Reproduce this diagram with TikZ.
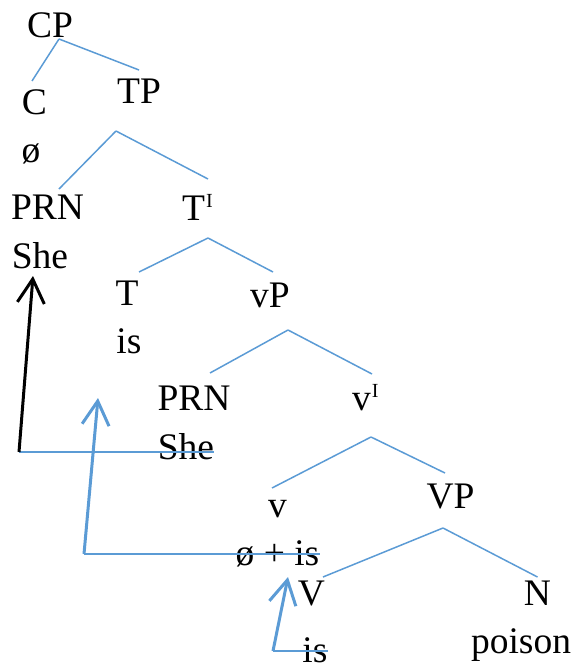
\documentclass[tikz,border=0pt]{standalone}
\usepackage{fontspec}
\setmainfont{Liberation Serif}
\usetikzlibrary{arrows.meta,calc}
\definecolor{treeblue}{HTML}{5B9BD5}
\newcommand{\barmark}{\raisebox{12.5pt}{\fontsize{20}{20}\selectfont I}}
\begin{document}
\begin{tikzpicture}[x=1pt,y=-1pt,
  lbl/.style={inner sep=0pt, anchor=base, font=\fontsize{37.5}{40}\selectfont},
  edge/.style={draw=treeblue, line width=1.5pt},
  move/.style={line width=3pt, -{Straight Barb[length=24pt,width=27pt]}},
  trace/.style={draw=treeblue, line width=2pt}]
\useasboundingbox (0,0) rectangle (574,666);
% labels
\node[lbl] (CP) at (50,38) {CP};
\node[lbl] (C) at (34.5,114) {C};
\node[lbl] (Cnull) at (31,162) {ø};
\node[lbl] (TP) at (139,104) {TP};
\node[lbl] (PRN1) at (47.5,219) {PRN};
\node[lbl] (She1) at (40,268) {She};
\node[lbl, anchor=base west] (Tbar) at (182,220) {T\kern1pt\barmark};
\node[lbl] (T) at (127,305) {T};
\node[lbl] (is1) at (129,353) {is};
\node[lbl] (vP) at (270,307) {vP};
\node[lbl] (PRN2) at (194,410) {PRN};
\node[lbl] (She2) at (186,459) {She};
\node[lbl, anchor=base west] (vbar) at (352,410) {v\kern1pt\barmark};
\node[lbl] (v) at (277.5,517) {v};
\node[lbl] (vcomplex) at (277.5,565) {ø + is};
\node[lbl] (VP) at (450.5,508) {VP};
\node[lbl] (V) at (311.5,605) {V};
\node[lbl] (N) at (537.5,605) {N};
\node[lbl] (poison) at (521,653) {poison};
\node[lbl] (is3) at (315,662) {is};
% tree edges
\draw[edge] ($(CP.base)+(9,1)$) -- ($(C.base)+(-2.5,-33)$);
\draw[edge] ($(CP.base)+(9,1)$) -- ($(TP.base)+(0,-34)$);
\draw[edge] ($(TP.base)+(-23,27)$) -- ($(PRN1.base)+(11.5,-30)$);
\draw[edge] ($(TP.base)+(-23,27)$) -- ($(Tbar.base west)+(26,-41)$);
\draw[edge] ($(Tbar.base west)+(26,18)$) -- ($(T.base)+(12,-33)$);
\draw[edge] ($(Tbar.base west)+(26,18)$) -- ($(vP.base)+(3,-35)$);
\draw[edge] ($(vP.base)+(18,23)$) -- ($(PRN2.base)+(16,-37)$);
\draw[edge] ($(vP.base)+(18,23)$) -- ($(vbar.base west)+(20,-36)$);
\draw[edge] ($(vbar.base west)+(19,27)$) -- ($(v.base)+(-5.5,-29)$);
\draw[edge] ($(vbar.base west)+(19,27)$) -- ($(VP.base)+(-5.5,-35)$);
\draw[edge] ($(VP.base)+(-7.5,20)$) -- ($(V.base)+(11.5,-28)$);
\draw[edge] ($(VP.base)+(-7.5,20)$) -- ($(N.base)+(0,-28)$);
% movement
\coordinate (m1) at (19,452);
\coordinate (m2) at (84,554);
\coordinate (m3) at (273,651);
\draw[trace] (m1) -- (m1 -| She2.east);
\draw[trace] (m2) -- (m2 -| vcomplex.east);
\draw[trace] (m3) -- (m3 -| is3.east);
\draw[move, black] (m1) -- ($(She1.base)+(-7,8)$);
\draw[move, treeblue] (m2) -- ($(is1.base)+(-31,45)$);
\draw[move, treeblue] (m3) -- ($(vcomplex.base)+(10.5,12)$);
\end{tikzpicture}
\end{document}
